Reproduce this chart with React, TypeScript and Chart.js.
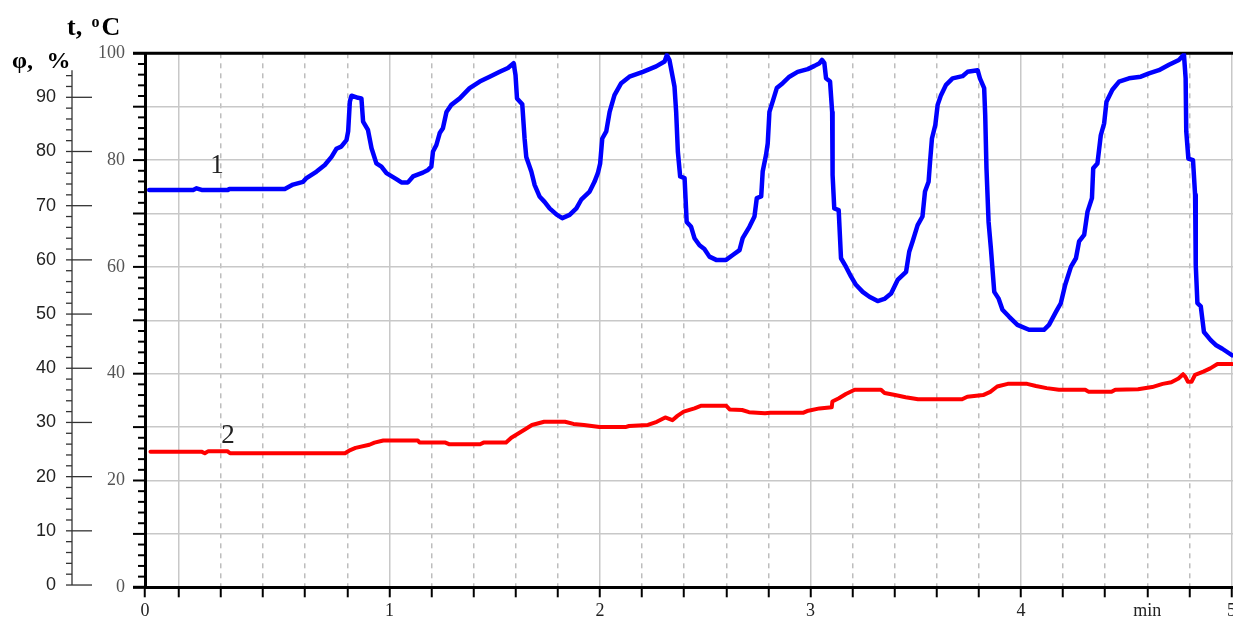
import React, { useEffect, useRef } from "react";
import { Chart, registerables } from "chart.js";

Chart.register(...registerables);

// ---- axis ranges ----
const X_MIN = -0.161;
const X_MAX = 5.007;
const T_MIN = 0;
const T_MAX = 100;
const PHI_MIN = -0.42;
const PHI_MAX = 98.12;

// ---- tick labels ----
const xLabelValues = [X_MIN, 1, 2, 3, 4, 4.6, 5];
const xLabelTexts = ["0", "1", "2", "3", "4", "min", "5"];
const xMinorTicks = Array.from({ length: 26 }, (_, i) => Math.round(i * 2) / 10);
const tGridValues = [0, 10, 20, 30, 40, 50, 60, 70, 80, 90, 100];
const tLabelValues = [0, 20, 40, 60, 80, 100];
const phiLabelValues = [0, 10, 20, 30, 40, 50, 60, 70, 80, 90];

// ---- series 1: relative humidity φ, % (time in min, value) ----
const humidityCurve: [number, number][] = [
  [-0.141, 72.9], [0.068, 72.9], [0.084, 73.2], [0.108, 72.9], [0.234, 72.9], [0.239, 73.1],
  [0.503, 73.1], [0.542, 73.9], [0.59, 74.4], [0.606, 75.1], [0.654, 76.3], [0.693, 77.5],
  [0.725, 79.0], [0.748, 80.5], [0.771, 80.9], [0.796, 82.1], [0.804, 83.7], [0.812, 89.2],
  [0.82, 90.3], [0.851, 89.9], [0.867, 89.8], [0.875, 85.5], [0.898, 84.0], [0.915, 80.6],
  [0.938, 77.8], [0.962, 77.2], [0.986, 76.0], [1.033, 74.9], [1.057, 74.3], [1.088, 74.3],
  [1.112, 75.4], [1.159, 76.1], [1.183, 76.6], [1.199, 77.2], [1.207, 80.0], [1.223, 81.2],
  [1.239, 83.4], [1.254, 84.3], [1.271, 87.3], [1.294, 88.6], [1.334, 89.8], [1.381, 91.7],
  [1.429, 92.9], [1.476, 93.8], [1.524, 94.7], [1.563, 95.4], [1.59, 96.3], [1.599, 94.1],
  [1.606, 89.8], [1.631, 88.7], [1.642, 82.4], [1.65, 79.0], [1.674, 76.3], [1.69, 73.8],
  [1.713, 71.7], [1.737, 70.7], [1.761, 69.5], [1.793, 68.4], [1.821, 67.7], [1.856, 68.3],
  [1.888, 69.5], [1.911, 71.1], [1.951, 72.6], [1.974, 74.4], [1.99, 76.0], [2.001, 77.8],
  [2.011, 82.4], [2.03, 83.7], [2.046, 87.3], [2.069, 90.4], [2.101, 92.6], [2.14, 93.8],
  [2.204, 94.7], [2.267, 95.7], [2.307, 96.6], [2.318, 97.8], [2.33, 96.9], [2.354, 92.0],
  [2.362, 87.3], [2.37, 80.0], [2.381, 75.4], [2.402, 75.1], [2.412, 67.0], [2.433, 66.1],
  [2.449, 64.0], [2.473, 62.7], [2.496, 62.0], [2.52, 60.6], [2.552, 60.0], [2.599, 60.0],
  [2.631, 60.9], [2.663, 61.8], [2.678, 64.0], [2.71, 66.1], [2.734, 68.0], [2.745, 71.4],
  [2.766, 71.7], [2.773, 76.3], [2.789, 79.4], [2.797, 81.5], [2.805, 87.3], [2.821, 89.3],
  [2.84, 91.7], [2.868, 92.6], [2.9, 93.8], [2.939, 94.7], [2.987, 95.2], [3.019, 95.8],
  [3.043, 96.3], [3.055, 96.9], [3.066, 96.3], [3.074, 93.5], [3.093, 92.9], [3.103, 87.3],
  [3.105, 75.7], [3.113, 69.5], [3.134, 69.2], [3.145, 60.3], [3.169, 58.7], [3.193, 56.9],
  [3.216, 55.4], [3.248, 54.1], [3.28, 53.2], [3.319, 52.4], [3.351, 52.8], [3.383, 53.8],
  [3.414, 56.3], [3.454, 57.8], [3.469, 61.5], [3.485, 63.4], [3.509, 66.4], [3.532, 68.0],
  [3.544, 72.6], [3.561, 74.4], [3.568, 78.1], [3.577, 82.4], [3.593, 84.9], [3.604, 88.6],
  [3.62, 90.4], [3.644, 92.3], [3.675, 93.5], [3.722, 93.9], [3.746, 94.7], [3.794, 95.0],
  [3.805, 93.5], [3.825, 91.7], [3.83, 86.7], [3.836, 76.9], [3.846, 67.0], [3.857, 62.1],
  [3.873, 54.1], [3.893, 52.9], [3.912, 50.8], [3.944, 49.5], [3.983, 48.0], [4.038, 47.1],
  [4.109, 47.1], [4.133, 48.0], [4.166, 50.4], [4.189, 52.0], [4.21, 55.4], [4.237, 58.7],
  [4.261, 60.3], [4.276, 63.4], [4.3, 64.6], [4.316, 68.9], [4.337, 71.4], [4.343, 76.9],
  [4.363, 77.8], [4.379, 83.0], [4.395, 85.2], [4.406, 89.2], [4.434, 91.4], [4.466, 92.9],
  [4.513, 93.5], [4.569, 93.8], [4.608, 94.4], [4.655, 95.0], [4.703, 96.0], [4.75, 96.9],
  [4.774, 97.9], [4.782, 93.5], [4.785, 83.7], [4.795, 78.7], [4.817, 78.4], [4.827, 72.0],
  [4.83, 59.1], [4.838, 52.0], [4.854, 51.4], [4.869, 46.7], [4.901, 45.2], [4.925, 44.3],
  [4.956, 43.6], [5.002, 42.4],
];

// ---- series 2: temperature t, °C (time in min, value) ----
const temperatureCurve: [number, number][] = [
  [-0.135, 25.4], [0.107, 25.4], [0.123, 25.1], [0.14, 25.5], [0.23, 25.5], [0.243, 25.1],
  [0.789, 25.1], [0.814, 25.7], [0.839, 26.1], [0.905, 26.7], [0.929, 27.1], [0.971, 27.5],
  [1.135, 27.5], [1.143, 27.1], [1.266, 27.1], [1.283, 26.8], [1.431, 26.8], [1.447, 27.1],
  [1.554, 27.1], [1.579, 28.0], [1.612, 28.8], [1.645, 29.6], [1.677, 30.4], [1.735, 31.0],
  [1.834, 31.0], [1.874, 30.6], [1.924, 30.4], [1.998, 30.0], [2.121, 30.0], [2.138, 30.2],
  [2.228, 30.4], [2.27, 31.0], [2.31, 31.8], [2.344, 31.3], [2.368, 32.1], [2.398, 32.9],
  [2.449, 33.5], [2.482, 34.0], [2.599, 34.0], [2.616, 33.3], [2.675, 33.2], [2.708, 32.8],
  [2.784, 32.6], [2.809, 32.7], [2.967, 32.7], [2.984, 33.0], [3.043, 33.5], [3.101, 33.7],
  [3.104, 34.8], [3.135, 35.4], [3.168, 36.2], [3.21, 37.0], [3.335, 37.0], [3.352, 36.4],
  [3.402, 36.0], [3.452, 35.6], [3.511, 35.2], [3.72, 35.2], [3.745, 35.7], [3.82, 36.0],
  [3.854, 36.6], [3.887, 37.6], [3.937, 38.1], [4.029, 38.1], [4.071, 37.7], [4.122, 37.3],
  [4.18, 37.0], [4.305, 37.0], [4.322, 36.6], [4.43, 36.6], [4.448, 37.0], [4.556, 37.1],
  [4.623, 37.5], [4.673, 38.1], [4.714, 38.4], [4.748, 39.1], [4.77, 39.9], [4.781, 39.4],
  [4.793, 38.5], [4.81, 38.5], [4.827, 39.8], [4.866, 40.4], [4.899, 41.0], [4.933, 41.8],
  [5.002, 41.8],
];

const SERIF = "'Liberation Serif', 'Times New Roman', serif";
const SANS = "'Liberation Sans', Arial, sans-serif";

const isWhole = (v: number) => Math.abs(v - Math.round(v)) < 1e-6;

const decorPlugin = {
  id: "decor",
  beforeDatasetsDraw(chart: any) {
    const { ctx, chartArea } = chart;
    ctx.save();
    ctx.strokeStyle = "#000";
    ctx.lineWidth = 3;
    ctx.beginPath();
    ctx.moveTo(133, chartArea.top);
    ctx.lineTo(chart.width, chartArea.top);
    ctx.stroke();
    ctx.beginPath();
    ctx.moveTo(133, chartArea.bottom);
    ctx.lineTo(chartArea.left, chartArea.bottom);
    ctx.stroke();
    ctx.restore();
  },
  afterDraw(chart: any) {
    const { ctx } = chart;
    const yT = chart.scales.y;
    const yP = chart.scales.yPhi;
    ctx.save();
    // inner axis ticks (t)
    ctx.strokeStyle = "#000";
    ctx.lineWidth = 2;
    for (let v = T_MIN; v <= T_MAX; v += 2) {
      const py = yT.getPixelForValue(v);
      const major = v % 10 === 0;
      ctx.beginPath();
      ctx.moveTo(major ? 133 : 138, py);
      ctx.lineTo(yT.right, py);
      ctx.stroke();
    }
    // outer axis (φ)
    const ax = 72;
    ctx.strokeStyle = "#333";
    ctx.lineWidth = 1.3;
    ctx.beginPath();
    ctx.moveTo(ax, yP.getPixelForValue(95));
    ctx.lineTo(ax, yP.getPixelForValue(0));
    ctx.stroke();
    for (let v = 0; v <= 94; v += 2) {
      const py = yP.getPixelForValue(v);
      const major = v % 10 === 0;
      ctx.beginPath();
      ctx.moveTo(66, py);
      ctx.lineTo(major ? 92 : ax, py);
      ctx.stroke();
    }
    // axis titles
    ctx.fillStyle = "#000";
    ctx.textBaseline = "alphabetic";
    ctx.textAlign = "left";
    ctx.font = `bold 26px ${SERIF}`;
    ctx.fillText("t,", 67, 35);
    ctx.fillText("C", 101.5, 35);
    ctx.font = `bold 16px ${SERIF}`;
    ctx.fillText("o", 91.5, 27);
    ctx.font = `bold 24px ${SERIF}`;
    ctx.fillText("φ,", 12, 68);
    ctx.fillText("%", 46.5, 68);
    // curve labels
    ctx.fillStyle = "#222";
    ctx.textAlign = "center";
    ctx.font = `27px ${SERIF}`;
    ctx.fillText("1", 217, 173);
    ctx.fillText("2", 228, 443);
    ctx.restore();
  },
};

export default function App() {
  const ref = useRef<HTMLCanvasElement | null>(null);

  useEffect(() => {
    if (!ref.current) return;
    const chart = new Chart(ref.current, {
      type: "line",
      data: {
        datasets: [
          {
            label: "φ, %",
            data: humidityCurve.map(([x, y]) => ({ x, y })),
            yAxisID: "yPhi",
            borderColor: "#0000ff",
            backgroundColor: "#0000ff",
            borderWidth: 4.5,
            pointRadius: 0,
            tension: 0,
            fill: false,
            borderJoinStyle: "round",
            borderCapStyle: "round",
          },
          {
            label: "t, °C",
            data: temperatureCurve.map(([x, y]) => ({ x, y })),
            yAxisID: "y",
            borderColor: "#ff0000",
            backgroundColor: "#ff0000",
            borderWidth: 4,
            pointRadius: 0,
            tension: 0,
            fill: false,
            borderJoinStyle: "round",
            borderCapStyle: "round",
          },
        ],
      },
      options: {
        animation: false,
        responsive: false,
        maintainAspectRatio: false,
        events: [],
        layout: { padding: { top: 53.3, left: 0, right: 0, bottom: 0 } },
        plugins: {
          legend: { display: false },
          tooltip: { enabled: false },
          title: { display: false },
        },
        scales: {
          x: {
            type: "linear",
            position: "bottom",
            min: X_MIN,
            max: X_MAX,
            afterBuildTicks: (s: any) => {
              s.ticks = [{ value: X_MIN }, ...xMinorTicks.map((v) => ({ value: v }))];
            },
            afterFit: (s: any) => {
              s.height = 35.7;
              s.paddingLeft = 0;
              s.paddingRight = 0;
            },
            grid: {
              color: (c: any) => {
                if (!c.tick) return "#c8c8c8";
                if (c.tick.value < -0.05) return "rgba(0,0,0,0)";
                return isWhole(c.tick.value) ? "#c8c8c8" : "#bdbdbd";
              },
              lineWidth: 1.5,
              drawTicks: true,
              tickLength: 10,
              tickWidth: 2,
              tickColor: "#000",
            },
            border: {
              display: true,
              color: "#000",
              width: 3,
              dash: (c: any) => (c.tick && !isWhole(c.tick.value) ? [5, 5] : []),
            },
            ticks: {
              autoSkip: false,
              maxRotation: 0,
              minRotation: 0,
              padding: 3,
              color: "#222",
              font: { family: SERIF, size: 18 },
              callback: (value: any) => {
                const i = xLabelValues.findIndex((v) => Math.abs(v - Number(value)) < 1e-6);
                return i >= 0 ? xLabelTexts[i] : "";
              },
            },
          },
          y: {
            type: "linear",
            position: "left",
            weight: 0,
            min: T_MIN,
            max: T_MAX,
            afterBuildTicks: (s: any) => {
              s.ticks = tGridValues.map((v) => ({ value: v }));
            },
            afterFit: (s: any) => {
              s.width = 50;
              s.paddingTop = 0;
              s.paddingBottom = 0;
            },
            grid: { color: "#c8c8c8", lineWidth: 1.5, drawTicks: false },
            border: { display: true, color: "#000", width: 3 },
            ticks: {
              autoSkip: false,
              padding: 20,
              color: "#555",
              font: { family: SERIF, size: 18 },
              callback: (value: any) =>
                tLabelValues.includes(Number(value)) ? String(value) : "",
            },
          },
          yPhi: {
            type: "linear",
            position: "left",
            weight: 1,
            min: PHI_MIN,
            max: PHI_MAX,
            afterBuildTicks: (s: any) => {
              s.ticks = phiLabelValues.map((v) => ({ value: v }));
            },
            afterFit: (s: any) => {
              s.width = 95;
              s.paddingTop = 0;
              s.paddingBottom = 0;
            },
            grid: { display: false, drawTicks: false },
            border: { display: false },
            ticks: {
              autoSkip: false,
              padding: 39,
              color: "#222",
              font: { family: SANS, size: 18 },
              callback: (value: any) => String(value),
            },
          },
        },
      } as any,
      plugins: [decorPlugin],
    });
    return () => chart.destroy();
  }, []);

  return (
    <div style={{ position: "fixed", left: 0, top: 0, width: 1233, height: 623, background: "#fff" }}>
      <canvas ref={ref} width={1233} height={623} style={{ display: "block" }} />
    </div>
  );
}
